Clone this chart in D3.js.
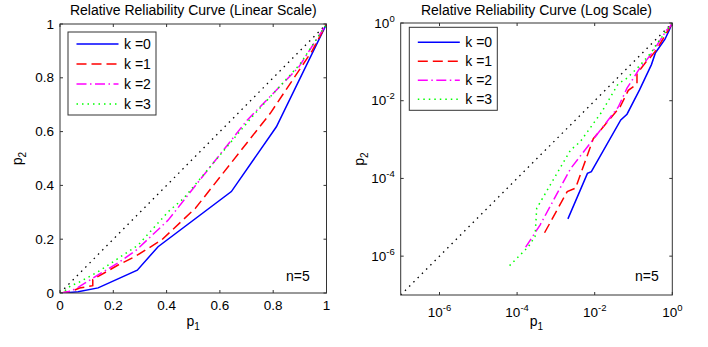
<!DOCTYPE html>
<html><head><meta charset="utf-8">
<script src="https://cdn.jsdelivr.net/npm/d3@7/dist/d3.min.js"></script>
<style>
body{margin:0;background:#fff;}
text{font-family:"Liberation Sans",Arial,Helvetica,sans-serif;fill:#000;}
</style></head><body>
<svg id="chart" width="708" height="347"></svg>
<script>
// curves, [p1, p2] pairs
var curveK0 = [[0.00204,9.1e-6],[0.0065,1.35e-4],[0.0082,1.49e-4],[0.047,0.0032],[0.068,0.0045],[0.143,0.019],[0.29,0.085],[0.368,0.172],[0.643,0.377],[0.812,0.618],[1,1]];
var curveK1 = [[5.1e-4,4e-6],[0.00196,4.6e-5],[0.0032,5.6e-5],[0.0092,0.00105],[0.0449,0.0069],[0.0735,0.0185],[0.123,0.027],[0.123,0.05],[0.218,0.104],[0.281,0.135],[0.381,0.197],[0.508,0.315],[0.789,0.668],[0.946,0.9],[1,1]];
var curveK2 = [[1.66e-4,1.7e-6],[3.9e-4,6.3e-6],[0.0024,1.8e-4],[0.0143,0.0018],[0.0406,0.0069],[0.068,0.021],[0.143,0.067],[0.224,0.116],[0.287,0.16],[0.406,0.271],[0.70,0.64],[0.896,0.84],[1,1]];
var curveK3 = [[6.4e-5,5.7e-7],[1.95e-4,1.75e-6],[2.9e-4,3.2e-6],[3.2e-4,1.7e-5],[0.0024,5.4e-4],[0.0042,8.7e-4],[0.0151,0.0051],[0.04,0.027],[0.068,0.038],[0.143,0.079],[0.293,0.178],[0.406,0.302],[0.464,0.352],[0.727,0.662],[0.9,0.85],[1,1]];
var refLine = [[1e-7,1e-7],[1,1]];

var names = ["k =0","k =1","k =2","k =3"];
var colors = ["#0000ff","#ff0000","#ff00ff","#00ff00"];
var dashes = [null,"10,5","10,3.5,1.5,3.5","1.5,4"];
var curves = [curveK0,curveK1,curveK2,curveK3];

var linTicks = [0,0.2,0.4,0.6,0.8,1];
var linTickLabels = ["0","0.2","0.4","0.6","0.8","1"];
var logTicks = [1e-6,1e-4,1e-2,1];
var logExps = ["-6","-4","-2","0"];

var svg = d3.select("#chart");

function drawPanel(o){
  var g = svg.append("g");
  var xScale, yScale;
  if(o.log){
    xScale = d3.scaleLog().domain([1e-7,1]).range([o.x0,o.x1]);
    yScale = d3.scaleLog().domain([1e-7,1]).range([o.y1,o.y0]);
  } else {
    xScale = d3.scaleLinear().domain([0,1]).range([o.x0,o.x1]);
    yScale = d3.scaleLinear().domain([0,1]).range([o.y1,o.y0]);
  }
  var clipId = "clip"+o.id;
  svg.append("clipPath").attr("id",clipId).append("rect")
    .attr("x",o.x0).attr("y",o.y0).attr("width",o.x1-o.x0).attr("height",o.y1-o.y0);

  var line = d3.line().x(function(d){return xScale(d[0]);}).y(function(d){return yScale(d[1]);});
  var plot = g.append("g").attr("clip-path","url(#"+clipId+")");

  plot.append("path").datum(refLine).attr("d",line)
    .attr("fill","none").attr("stroke","#000").attr("stroke-width",1.3)
    .attr("stroke-dasharray","1.5,4.5");
  curves.forEach(function(c,i){
    plot.append("path").datum(c).attr("d",line)
      .attr("fill","none").attr("stroke",colors[i]).attr("stroke-width",1.5)
      .attr("stroke-dasharray",dashes[i]);
  });

  // box and ticks
  g.append("rect").attr("x",o.x0).attr("y",o.y0).attr("width",o.x1-o.x0).attr("height",o.y1-o.y0)
    .attr("fill","none").attr("stroke","#333").attr("stroke-width",1);
  var ticks = o.log ? logTicks : linTicks;
  ticks.forEach(function(t,i){
    var x = xScale(t), y = yScale(t);
    g.append("line").attr("x1",x).attr("x2",x).attr("y1",o.y1).attr("y2",o.y1-3).attr("stroke","#333");
    g.append("line").attr("x1",x).attr("x2",x).attr("y1",o.y0).attr("y2",o.y0+3).attr("stroke","#333");
    g.append("line").attr("y1",y).attr("y2",y).attr("x1",o.x0).attr("x2",o.x0+3).attr("stroke","#333");
    g.append("line").attr("y1",y).attr("y2",y).attr("x1",o.x1).attr("x2",o.x1-3).attr("stroke","#333");
    if(o.log){
      var tx = g.append("text").attr("x",x).attr("y",o.y1+22).attr("text-anchor","middle").style("font-size","13.5px");
      tx.append("tspan").text("10");
      tx.append("tspan").attr("dy",-6).style("font-size","9.5px").text(logExps[i]);
      var ty = g.append("text").attr("x",o.x0-6).attr("y",y+4.5).attr("text-anchor","end").style("font-size","13.5px");
      ty.append("tspan").text("10");
      ty.append("tspan").attr("dy",-6).style("font-size","9.5px").text(logExps[i]);
    } else {
      g.append("text").attr("x",x).attr("y",o.y1+17).attr("text-anchor","middle").style("font-size","13.5px").text(linTickLabels[i]);
      g.append("text").attr("x",o.x0-6).attr("y",y+4.5).attr("text-anchor","end").style("font-size","13.5px").text(linTickLabels[i]);
    }
  });

  // title
  g.append("text").attr("x",(o.x0+o.x1)/2).attr("y",o.titleY).attr("text-anchor","middle")
    .style("font-size","14px").text(o.title);

  // axis labels
  var xl = g.append("text").attr("x",(o.x0+o.x1)/2).attr("y",326).attr("text-anchor","middle").style("font-size","14px");
  xl.append("tspan").text("p");
  xl.append("tspan").attr("dy",4).style("font-size","10px").text("1");
  var yl = g.append("text").attr("transform","translate("+o.ylabX+","+((o.y0+o.y1)/2)+") rotate(-90)")
    .attr("text-anchor","middle").style("font-size","14px");
  yl.append("tspan").text("p");
  yl.append("tspan").attr("dy",4).style("font-size","10px").text("2");

  g.append("text").attr("x",o.nX).attr("y",281).style("font-size","14px").text("n=5");

  // legend
  var L = o.legend;
  g.append("rect").attr("x",L.x).attr("y",L.y).attr("width",L.w).attr("height",L.h)
    .attr("fill","#fff").attr("stroke","#333").attr("stroke-width",1);
  names.forEach(function(n,i){
    var yy = L.rowY + i*L.step;
    g.append("line").attr("x1",L.x+8.5).attr("x2",L.x+50.5).attr("y1",yy).attr("y2",yy)
      .attr("stroke",colors[i]).attr("stroke-width",1.5).attr("stroke-dasharray",dashes[i]);
    g.append("text").attr("x",L.x+56).attr("y",yy+5).style("font-size","14px").text(n);
  });
}

drawPanel({id:"a",log:false,x0:60,x1:326.5,y0:24,y1:293,title:"Relative Reliability Curve (Linear Scale)",titleY:15,
  ylabX:22,nX:286,legend:{x:68,y:32,w:88,h:83,rowY:44,step:20}});
drawPanel({id:"b",log:true,x0:400.7,x1:672.3,y0:23,y1:295,title:"Relative Reliability Curve (Log Scale)",titleY:14.5,
  ylabX:364,nX:635,legend:{x:409.3,y:27.3,w:88,h:83,rowY:42.3,step:19}});
</script>
</body></html>
